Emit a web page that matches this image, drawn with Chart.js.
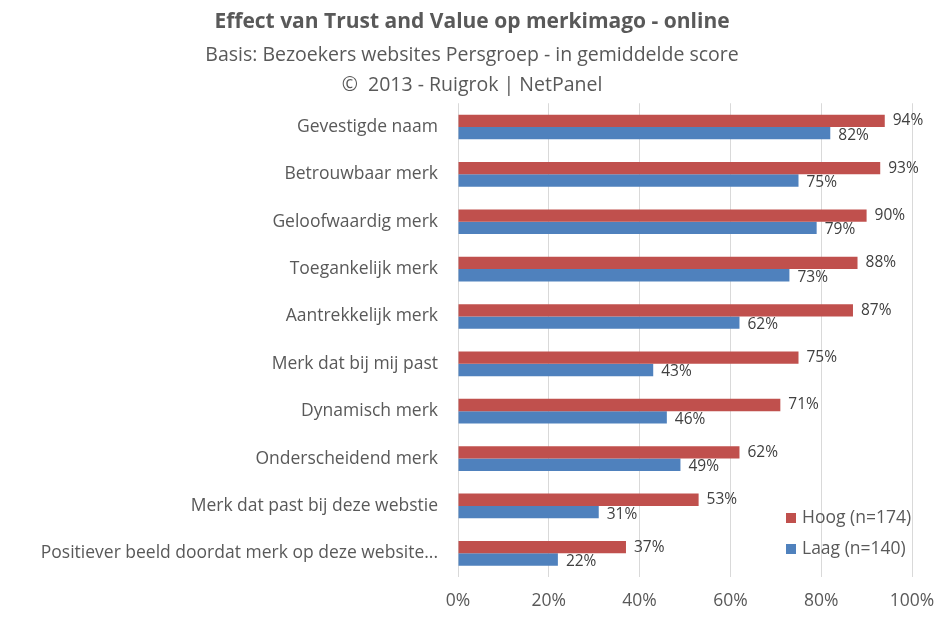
<!DOCTYPE html>
<html>
<head>
<meta charset="utf-8">
<script src="https://cdn.jsdelivr.net/npm/chart.js@4.4.0/dist/chart.umd.min.js"></script>
<style>
  html, body { margin: 0; padding: 0; background: #fff; }
  #wrap { width: 944px; height: 617px; }
</style>
</head>
<body>
<div id="wrap"><canvas id="grafiek"></canvas></div>
<script>
var categories = [
    'Gevestigde naam',
    'Betrouwbaar merk',
    'Geloofwaardig merk',
    'Toegankelijk merk',
    'Aantrekkelijk merk',
    'Merk dat bij mij past',
    'Dynamisch merk',
    'Onderscheidend merk',
    'Merk dat past bij deze webstie',
    'Positiever beeld doordat merk op deze website...'
];
var hoog = [94, 93, 90, 88, 87, 75, 71, 62, 53, 37];
var laag = [82, 75, 79, 73, 62, 43, 46, 49, 31, 22];
var seriesNames = ['Hoog (n=174)', 'Laag (n=140)'];
var xTicks = [0, 20, 40, 60, 80, 100];

var fontFam = "'Open Sans', sans-serif";
var grijs = '#595959';

// labels rechts van de balken
var labelPlugin = {
    id: 'waardes',
    afterDatasetsDraw: function(chart) {
        var ctx = chart.ctx;
        ctx.save();
        ctx.font = '15.5px ' + fontFam;
        ctx.fillStyle = '#404040';
        ctx.textAlign = 'left';
        ctx.textBaseline = 'middle';
        chart.data.datasets.forEach(function(ds, i) {
            var meta = chart.getDatasetMeta(i);
            meta.data.forEach(function(bar, j) {
                var dy = i === 0 ? 0 : 2;
                ctx.fillText(ds.data[j] + '%', bar.x + 8, bar.y + dy);
            });
        });
        ctx.restore();
    }
};

// legenda rechtsonder in de grafiek
var legendPlugin = {
    id: 'legendaBinnen',
    afterDraw: function(chart) {
        var ctx = chart.ctx;
        ctx.save();
        ctx.font = '17.5px ' + fontFam;
        ctx.textBaseline = 'middle';
        chart.data.datasets.forEach(function(ds, i) {
            var y = 518 + i * 31;
            ctx.fillStyle = ds.backgroundColor;
            ctx.fillRect(786, y - 5, 10, 10);
            ctx.fillStyle = grijs;
            ctx.fillText(ds.label, 802, y);
        });
        ctx.restore();
    }
};

new Chart(document.getElementById('grafiek'), {
    type: 'bar',
    data: {
        labels: categories,
        datasets: [{
            label: seriesNames[0],
            data: hoog,
            backgroundColor: '#C0504D'
        }, {
            label: seriesNames[1],
            data: laag,
            backgroundColor: '#4F81BD'
        }]
    },
    options: {
        indexAxis: 'y',
        responsive: true,
        maintainAspectRatio: false,
        animation: false,
        categoryPercentage: 0.52,
        barPercentage: 1,
        layout: { padding: 0 },
        plugins: {
            legend: { display: false },
            tooltip: { enabled: false },
            title: {
                display: true,
                text: 'Effect van Trust and Value op merkimago - online',
                color: grijs,
                font: { family: fontFam, size: 21, weight: 'bold', lineHeight: 1.2 },
                padding: { top: 9, bottom: 6 }
            },
            subtitle: {
                display: true,
                text: ['Basis: Bezoekers websites Persgroep - in gemiddelde score', '\u00A9  2013 - Ruigrok | NetPanel'],
                color: grijs,
                font: { family: fontFam, size: 19.5, lineHeight: 1.54 },
                padding: { top: 0, bottom: 3 }
            }
        },
        scales: {
            x: {
                min: 0,
                max: 100,
                afterBuildTicks: function(scale) {
                    scale.ticks = xTicks.map(function(v) { return { value: v }; });
                },
                afterFit: function(scale) {
                    scale.height = 40;
                    scale.paddingRight = 32;
                },
                ticks: {
                    color: grijs,
                    font: { family: fontFam, size: 17.5 },
                    padding: 14,
                    callback: function(v) { return v + '%'; }
                },
                grid: { color: '#d9d9d9', drawTicks: false },
                border: { display: false }
            },
            y: {
                afterFit: function(scale) { scale.width = 458; },
                ticks: {
                    color: grijs,
                    font: { family: fontFam, size: 17.5 },
                    padding: 12
                },
                grid: { display: false },
                border: { display: false }
            }
        }
    },
    plugins: [labelPlugin, legendPlugin]
});
</script>
</body>
</html>
